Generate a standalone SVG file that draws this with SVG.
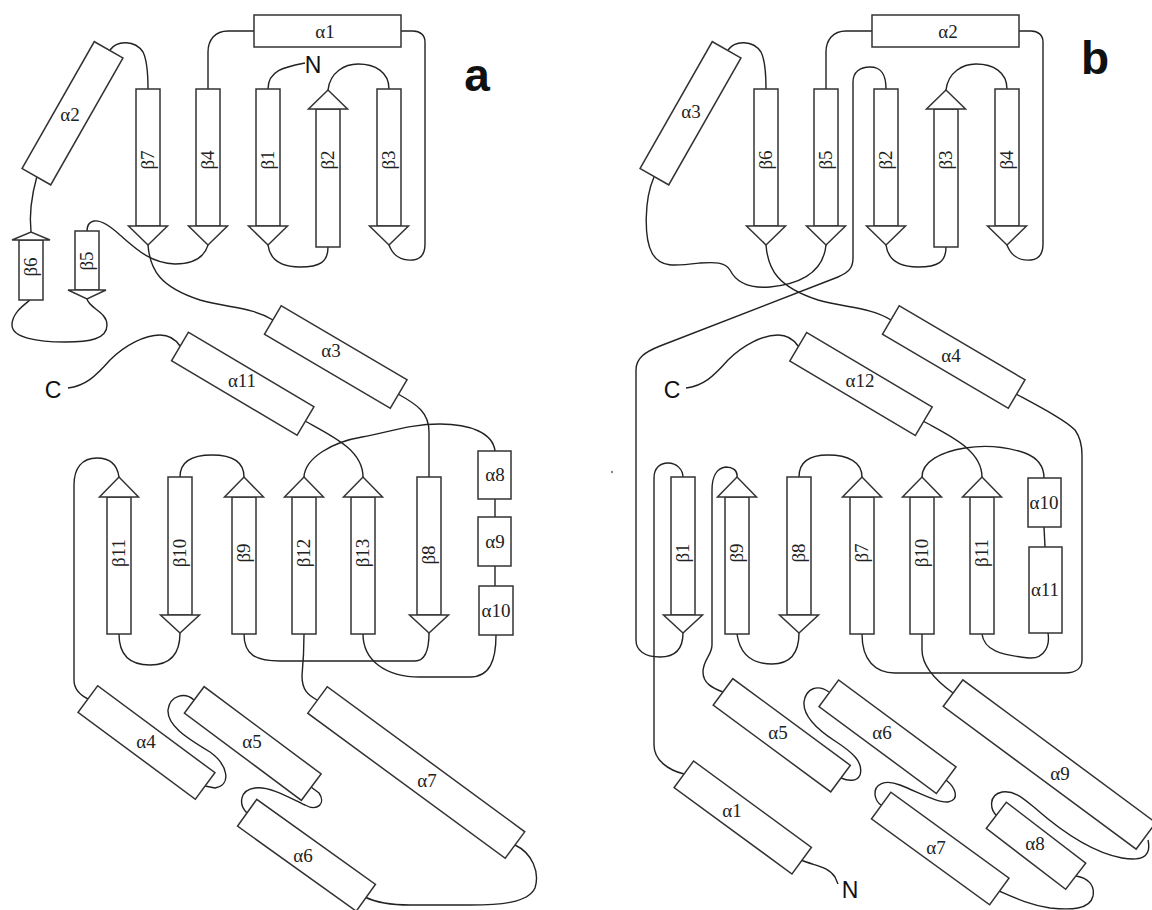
<svg xmlns="http://www.w3.org/2000/svg" width="1152" height="910" viewBox="0 0 1152 910">
<style>
.c{fill:none;stroke:#222;stroke-width:1.4}
.s{fill:#fff;stroke:#333;stroke-width:1.5}
.l{font-family:"Liberation Serif","Times New Roman",serif;font-size:19px;fill:#222;text-anchor:middle}
.t{font-family:"Liberation Sans",Arial,sans-serif;font-size:23px;fill:#111;text-anchor:middle}
.p{font-family:"Liberation Sans",Arial,sans-serif;font-size:46px;font-weight:bold;fill:#111;text-anchor:middle}
</style>
<rect width="1152" height="910" fill="#fff"/>
<g id="connectors">
<path class="c" d="M305,63 C285,67 268,70 268,89"/>
<path class="c" d="M268,245 C270,260 282,267 300,267 C320,267 328,262 328,247"/>
<path class="c" d="M328,90 C330,72 345,64 358,64 C375,64 389,72 389,89"/>
<path class="c" d="M389,245 C393,256 402,261 413,260 C422,259 425,252 425,244 L425,42 C425,35 420,31 413,31 L401,31"/>
<path class="c" d="M254,31 L228,31 C215,31 208,40 208,52 L208,89"/>
<path class="c" d="M208,245 C204,258 192,264 175,264 C150,263 135,248 120,235 C108,224 100,220 94,221 C89,222 87,226 87,231"/>
<path class="c" d="M87,299 C89,308 107,312 107,325 C107,339 90,342 65,342 C38,342 12,338 12,325 C12,313 24,305 30,300"/>
<path class="c" d="M31,232 C29,214 32,194 37,176"/>
<path class="c" d="M110,50 C117,40 135,40 143,52 C147,60 148,75 148,89"/>
<path class="c" d="M148,245 C150,270 160,287 200,300 C228,308 252,307 273,320"/>
<path class="c" d="M398,394 C418,405 429,413 429,432 L429,477"/>
<path class="c" d="M68,388 C85,386 95,377 110,360 C125,345 145,335 160,335 C170,335 176,340 180,346"/>
<path class="c" d="M305,421 C332,436 363,450 363,477"/>
<path class="c" d="M304,477 C305,458 332,442 362,437 C390,432 410,424 440,424 C470,424 493,433 495,451"/>
<path class="c" d="M119,477 C117,463 109,458 97,458 C82,458 74,468 74,485 L74,680 C74,690 80,695 88,699"/>
<path class="c" d="M180,477 C180,462 192,455 212,455 C232,455 244,462 244,477"/>
<path class="c" d="M119,634 C119,656 131,665 150,665 C170,665 180,655 180,633"/>
<path class="c" d="M244,634 C244,655 256,661 280,661 L415,661 C425,661 429,650 429,633"/>
<path class="c" d="M363,634 C363,660 385,677 420,677 L470,677 C490,677 496,660 496,635"/>
<path class="c" d="M304,634 C304,650 303,665 302,676 C302,690 308,695 317,700"/>
<path class="c" d="M515,845 C532,853 540,872 535,888 C528,903 500,905 470,905 L410,905 C390,905 375,902 365,897"/>
<path class="c" d="M247,813 C238,804 240,790 255,788 C270,786 290,798 305,805 C318,812 326,803 319,793 L311,787"/>
<path class="c" d="M194,700 C185,692 170,695 168,710 C167,725 185,737 210,752 C228,765 232,785 215,788 L205,786"/>
<path class="c" d="M495,499 L495,517"/>
<path class="c" d="M495,566 L495,586"/>
<path class="c" d="M801,860 C815,866 828,866 835,877 L838,884"/>
<path class="c" d="M684,774 C668,770 654,760 654,745 L654,478 C654,468 660,463 668,463 C677,463 683,470 683,477"/>
<path class="c" d="M683,633 C683,650 675,657 660,657 C644,657 636,650 636,640 L636,370 C636,358 645,352 660,346 L838,277 C849,272 853,268 853,258 L853,82 C853,72 860,67 870,67 C882,67 886,75 886,89"/>
<path class="c" d="M886,245 C888,260 900,267 918,267 C938,267 946,262 946,247"/>
<path class="c" d="M946,90 C948,72 963,64 976,64 C993,64 1007,72 1007,89"/>
<path class="c" d="M1007,245 C1011,256 1020,261 1031,260 C1040,259 1043,252 1043,244 L1043,42 C1043,35 1038,31 1031,31 L1019,31"/>
<path class="c" d="M872,31 L846,31 C833,31 826,40 826,52 L826,89"/>
<path class="c" d="M728,50 C735,40 753,40 761,52 C765,60 766,75 766,89"/>
<path class="c" d="M826,245 C824,265 810,283 770,287 C745,289 735,280 730,270 C725,262 715,262 700,263 C675,266 660,268 652,253 C644,238 644,200 654,177"/>
<path class="c" d="M766,245 C768,270 778,287 818,300 C846,308 870,307 891,320"/>
<path class="c" d="M1016,394 C1040,407 1065,420 1075,430 C1080,437 1082,445 1082,455 L1082,660 C1082,668 1076,673 1065,673 L895,673 C875,673 862,660 862,634"/>
<path class="c" d="M686,388 C703,386 713,377 728,360 C743,345 763,335 778,335 C788,335 794,340 798,346"/>
<path class="c" d="M923,421 C950,436 982,450 982,477"/>
<path class="c" d="M922,477 C922,462 940,452 965,448 C990,444 1010,448 1025,453 C1038,458 1044,466 1044,478"/>
<path class="c" d="M1044,527 L1045,547"/>
<path class="c" d="M982,634 C984,650 1000,655 1029,658 C1045,659 1050,645 1048,633"/>
<path class="c" d="M922,634 L922,650 C922,665 935,680 953,693"/>
<path class="c" d="M799,477 C799,462 810,455 828,455 C848,455 862,462 862,477"/>
<path class="c" d="M737,634 C740,655 752,664 772,664 C790,664 799,653 799,633"/>
<path class="c" d="M737,477 C738,470 732,467 726,467 C716,468 712,478 712,490 L712,645 C712,655 703,660 703,672 C703,683 712,688 723,692"/>
<path class="c" d="M829,692 C818,684 806,688 804,702 C803,715 815,728 835,741 C852,752 864,762 860,775 C857,782 848,781 841,778"/>
<path class="c" d="M946,780 C956,788 960,800 948,802 C938,803 920,793 900,785 C885,779 874,784 875,795 C876,801 878,803 881,805"/>
<path class="c" d="M999,891 C1015,898 1030,905 1050,908 C1070,910 1090,910 1093,896 C1095,885 1088,878 1076,876"/>
<path class="c" d="M997,816 C990,810 988,795 1002,792 C1015,790 1025,800 1035,808 C1060,830 1090,852 1122,858 C1140,861 1152,858 1148,840"/>
</g>
<g id="panel-a">
<g id="a-alpha1"><rect class="s" x="254" y="15" width="147" height="32"/><text class="l" x="325" y="38">α1</text></g>
<g id="a-alpha2"><rect class="s" x="-73" y="-16.5" width="146" height="33" transform="translate(72.5,113.25) rotate(-60.35)"/><text class="l" x="70" y="121">α2</text></g>
<g id="a-alpha3"><rect class="s" x="-73" y="-16.5" width="146" height="33" transform="translate(335.75,357) rotate(30.5)"/><text class="l" x="331" y="357">α3</text></g>
<g id="a-alpha11"><rect class="s" x="-73" y="-16.5" width="146" height="33" transform="translate(242.75,383.75) rotate(30.7)"/><text class="l" x="242" y="387">α11</text></g>
<g id="a-alpha4"><rect class="s" x="-73" y="-16.5" width="146" height="33" transform="translate(146.5,742.5) rotate(36.55)"/><text class="l" x="146" y="748">α4</text></g>
<g id="a-alpha5"><rect class="s" x="-73" y="-16.5" width="146" height="33" transform="translate(252.75,743.5) rotate(36.75)"/><text class="l" x="252" y="748">α5</text></g>
<g id="a-alpha6"><rect class="s" x="-73" y="-16.5" width="146" height="33" transform="translate(306.5,855.25) rotate(35.6)"/><text class="l" x="303" y="862">α6</text></g>
<g id="a-alpha7"><rect class="s" x="-122.5" y="-16.5" width="245" height="33" transform="translate(416.25,772.5) rotate(36.3)"/><text class="l" x="427" y="787">α7</text></g>
<g id="a-alpha8"><rect class="s" x="478" y="451" width="33" height="48"/><text class="l" x="495" y="481">α8</text></g>
<g id="a-alpha9"><rect class="s" x="478" y="517" width="33" height="49"/><text class="l" x="495" y="548">α9</text></g>
<g id="a-alpha10"><rect class="s" x="479" y="586" width="34" height="49"/><text class="l" x="496" y="617">α10</text></g>
<g id="a-beta7"><rect class="s" x="136" y="89" width="24" height="137"/><polygon class="s" points="128.5,226 167.5,226 148,245"/><text class="l" transform="translate(148,160) rotate(-90)" y="6">β7</text></g>
<g id="a-beta4"><rect class="s" x="196" y="89" width="24" height="137"/><polygon class="s" points="188.5,226 227.5,226 208,245"/><text class="l" transform="translate(208,160) rotate(-90)" y="6">β4</text></g>
<g id="a-beta1"><rect class="s" x="256" y="89" width="24" height="137"/><polygon class="s" points="248.5,226 287.5,226 268,245"/><text class="l" transform="translate(268,160) rotate(-90)" y="6">β1</text></g>
<g id="a-beta2"><rect class="s" x="316" y="109" width="24" height="138"/><polygon class="s" points="308.5,109 347.5,109 328,90"/><text class="l" transform="translate(328,160) rotate(-90)" y="6">β2</text></g>
<g id="a-beta3"><rect class="s" x="377" y="89" width="24" height="137"/><polygon class="s" points="369.5,226 408.5,226 389,245"/><text class="l" transform="translate(389,160) rotate(-90)" y="6">β3</text></g>
<g id="a-beta6"><rect class="s" x="19" y="240" width="24" height="60"/><polygon class="s" points="12,240 50,240 31,232"/><text class="l" transform="translate(31,267) rotate(-90)" y="6">β6</text></g>
<g id="a-beta5"><rect class="s" x="75" y="231" width="24" height="59"/><polygon class="s" points="68,290 106,290 87,299"/><text class="l" transform="translate(87,261) rotate(-90)" y="6">β5</text></g>
<g id="a-beta11"><rect class="s" x="107" y="497" width="24" height="137"/><polygon class="s" points="99.5,497 138.5,497 119,477"/><text class="l" transform="translate(119,553) rotate(-90)" y="6">β11</text></g>
<g id="a-beta10"><rect class="s" x="168" y="477" width="24" height="138"/><polygon class="s" points="160.5,615 199.5,615 180,633"/><text class="l" transform="translate(180,553) rotate(-90)" y="6">β10</text></g>
<g id="a-beta9"><rect class="s" x="232" y="497" width="24" height="137"/><polygon class="s" points="224.5,497 263.5,497 244,477"/><text class="l" transform="translate(244,553) rotate(-90)" y="6">β9</text></g>
<g id="a-beta12"><rect class="s" x="292" y="497" width="24" height="137"/><polygon class="s" points="284.5,497 323.5,497 304,477"/><text class="l" transform="translate(304,553) rotate(-90)" y="6">β12</text></g>
<g id="a-beta13"><rect class="s" x="351" y="497" width="24" height="137"/><polygon class="s" points="343.5,497 382.5,497 363,477"/><text class="l" transform="translate(363,553) rotate(-90)" y="6">β13</text></g>
<g id="a-beta8"><rect class="s" x="417" y="477" width="24" height="138"/><polygon class="s" points="409.5,615 448.5,615 429,633"/><text class="l" transform="translate(429,555) rotate(-90)" y="6">β8</text></g>
<g id="a-N"><text class="t" x="313" y="73">N</text></g>
<g id="a-C"><text class="t" x="53" y="398">C</text></g>
<g id="a-label"><text class="p" x="477" y="91">a</text></g>
</g>
<g id="panel-b">
<g id="b-alpha2"><rect class="s" x="872" y="15" width="147" height="32"/><text class="l" x="948" y="38">α2</text></g>
<g id="b-alpha3"><rect class="s" x="-73" y="-16.5" width="146" height="33" transform="translate(690.5,113.25) rotate(-60.35)"/><text class="l" x="691" y="118">α3</text></g>
<g id="b-alpha4"><rect class="s" x="-73" y="-16.5" width="146" height="33" transform="translate(953.75,357) rotate(30.5)"/><text class="l" x="951" y="362">α4</text></g>
<g id="b-alpha12"><rect class="s" x="-73" y="-16.5" width="146" height="33" transform="translate(861,384) rotate(30.7)"/><text class="l" x="860" y="387">α12</text></g>
<g id="b-alpha1"><rect class="s" x="-73" y="-16.5" width="146" height="33" transform="translate(742.75,817.5) rotate(36.2)"/><text class="l" x="732" y="817">α1</text></g>
<g id="b-alpha5"><rect class="s" x="-73" y="-16.5" width="146" height="33" transform="translate(781.75,735.25) rotate(36.4)"/><text class="l" x="778" y="739">α5</text></g>
<g id="b-alpha6"><rect class="s" x="-73" y="-16.5" width="146" height="33" transform="translate(887.5,736.75) rotate(36.5)"/><text class="l" x="882" y="739">α6</text></g>
<g id="b-alpha7"><rect class="s" x="-73" y="-16.5" width="146" height="33" transform="translate(940.25,848.5) rotate(36)"/><text class="l" x="936" y="854">α7</text></g>
<g id="b-alpha8"><rect class="s" x="-50" y="-16.5" width="100" height="33" transform="translate(1036,845.75) rotate(37.45)"/><text class="l" x="1035" y="850">α8</text></g>
<g id="b-alpha9"><rect class="s" x="-120" y="-16.5" width="240" height="33" transform="translate(1049.5,764.5) rotate(36.5)"/><text class="l" x="1060" y="780">α9</text></g>
<g id="b-alpha10"><rect class="s" x="1028" y="478" width="33" height="49"/><text class="l" x="1044" y="509">α10</text></g>
<g id="b-alpha11"><rect class="s" x="1029" y="547" width="33" height="86"/><text class="l" x="1045" y="596">α11</text></g>
<g id="b-beta6"><rect class="s" x="754" y="89" width="24" height="137"/><polygon class="s" points="746.5,226 785.5,226 766,245"/><text class="l" transform="translate(766,160) rotate(-90)" y="6">β6</text></g>
<g id="b-beta5"><rect class="s" x="814" y="89" width="24" height="137"/><polygon class="s" points="806.5,226 845.5,226 826,245"/><text class="l" transform="translate(826,160) rotate(-90)" y="6">β5</text></g>
<g id="b-beta2"><rect class="s" x="874" y="89" width="24" height="137"/><polygon class="s" points="866.5,226 905.5,226 886,245"/><text class="l" transform="translate(886,160) rotate(-90)" y="6">β2</text></g>
<g id="b-beta3"><rect class="s" x="934" y="109" width="24" height="138"/><polygon class="s" points="926.5,109 965.5,109 946,90"/><text class="l" transform="translate(946,160) rotate(-90)" y="6">β3</text></g>
<g id="b-beta4"><rect class="s" x="995" y="89" width="24" height="137"/><polygon class="s" points="987.5,226 1026.5,226 1007,245"/><text class="l" transform="translate(1007,160) rotate(-90)" y="6">β4</text></g>
<g id="b-beta1"><rect class="s" x="671" y="477" width="24" height="138"/><polygon class="s" points="663.5,615 702.5,615 683,633"/><text class="l" transform="translate(683,553) rotate(-90)" y="6">β1</text></g>
<g id="b-beta9"><rect class="s" x="725" y="497" width="24" height="137"/><polygon class="s" points="717.5,497 756.5,497 737,477"/><text class="l" transform="translate(737,553) rotate(-90)" y="6">β9</text></g>
<g id="b-beta8"><rect class="s" x="787" y="477" width="24" height="138"/><polygon class="s" points="779.5,615 818.5,615 799,633"/><text class="l" transform="translate(799,553) rotate(-90)" y="6">β8</text></g>
<g id="b-beta7"><rect class="s" x="850" y="497" width="24" height="137"/><polygon class="s" points="842.5,497 881.5,497 862,477"/><text class="l" transform="translate(862,553) rotate(-90)" y="6">β7</text></g>
<g id="b-beta10"><rect class="s" x="910" y="497" width="24" height="137"/><polygon class="s" points="902.5,497 941.5,497 922,477"/><text class="l" transform="translate(922,553) rotate(-90)" y="6">β10</text></g>
<g id="b-beta11"><rect class="s" x="970" y="497" width="24" height="137"/><polygon class="s" points="962.5,497 1001.5,497 982,477"/><text class="l" transform="translate(982,553) rotate(-90)" y="6">β11</text></g>
<g id="b-N"><text class="t" x="850" y="898">N</text></g>
<g id="b-C"><text class="t" x="672" y="398">C</text></g>
<g id="b-label"><text class="p" x="1095" y="74">b</text></g>
</g>
<circle cx="612" cy="472" r="1.2" fill="#888"/>
</svg>
